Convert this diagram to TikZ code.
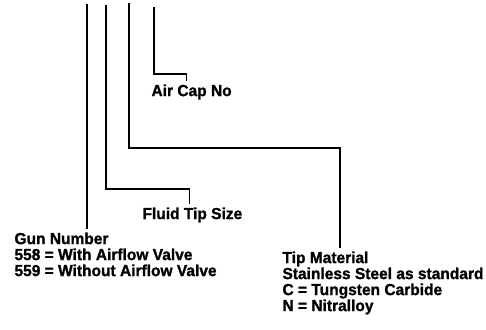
\documentclass[tikz,border=0pt]{standalone}
\usepackage{fontspec}
\setmainfont{Liberation Sans}[BoldFeatures={FakeBold=1.2, FakeStretch=0.97}]
\usetikzlibrary{positioning}
\tikzset{
    mylabel/.style = {inner sep=0pt, outer sep=3.5pt, align=left, anchor=north west, font=\bfseries\fontsize{16}{16}\selectfont, text=black},
    edgen/.style = {-, line width=1.7pt, black},
}

\begin{document}
\begin{tikzpicture}[x=1pt,y=-1pt]
%
\path[use as bounding box] (0,0) rectangle (486,329);
%
\coordinate (g0) at (87,4);
\coordinate (f0) at (106,5);
\coordinate (f1) at (106,189);
\coordinate (t0) at (129,3);
\coordinate (t1) at (129,148);
\coordinate (a0) at (154,7);
\coordinate (a1) at (154,74);
%
\node[mylabel] at (148,81) (air) {Air Cap No};
\node[mylabel] at (139,204) (fluid) {Fluid Tip Size};
\node[mylabel] at (11,229) (gun) {Gun Number\\558 = With Airflow Valve\\559 = Without Airflow Valve};
\node[mylabel] at (279,248) (tip) {Tip Material\\Stainless Steel as standard\\C = Tungsten Carbide\\N = Nitralloy};
%
\draw[edgen] (g0) -- (g0 |- gun.north);
\draw[edgen] (f0) -- (f1) -| ([xshift=-3pt]fluid.north);
\draw[edgen] (t0) -- (t1) -| ([xshift=61pt]tip.north west);
\draw[edgen] (a0) -- (a1) -| ([xshift=-5pt]air.north);

\end{tikzpicture}
\end{document}
